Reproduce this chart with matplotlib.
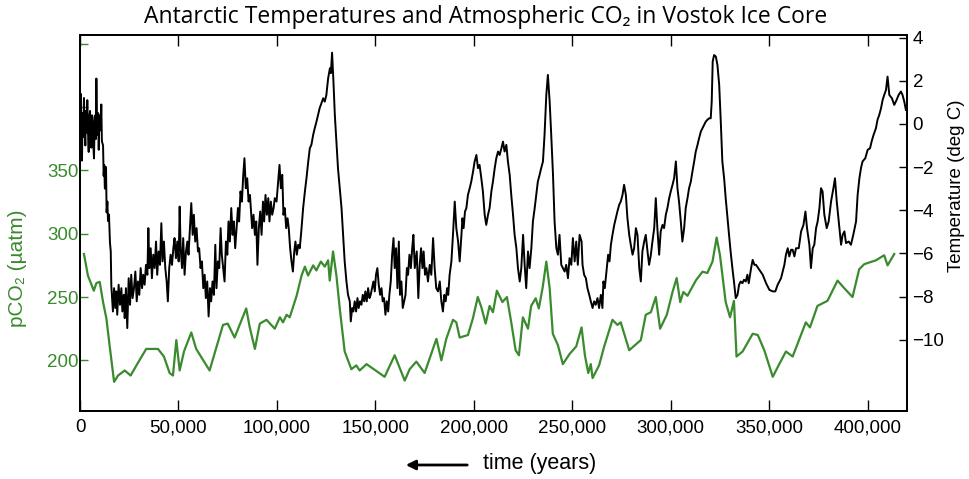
import numpy as np
import matplotlib
matplotlib.use('Agg')
import matplotlib.pyplot as plt
from matplotlib.ticker import FuncFormatter

# Vostok ice core (age in thousands of years)
co2_age = [2, 4, 7, 8.3, 10, 11.7, 13.4, 15, 17.3, 19.3, 22.7, 25.7, 29.4, 33.6, 39.6, 42.6,
           45.5, 47.2, 48.9, 50.6, 52.8, 56.5, 59, 65.8, 72.6, 75, 78.5, 84.4, 86.2, 88.8, 91.3,
           94.7, 98.9, 101.5, 103.1, 104.9, 106.5, 110, 112.5, 114.2, 115.8, 118.4, 120, 122.3,
           124.3, 126, 126.8, 128.5, 130.2, 131.9, 134.4, 137.8, 140.3, 142, 145.5, 154.7,
           159.8, 164.9, 167.4, 170.8, 175, 179.2, 181, 183.5, 186, 189.4, 191.1, 192.8, 197,
           199.5, 202, 203.8, 206, 208, 209.7, 211.7, 214.5, 216.8, 219, 221.2, 222.9, 224.9,
           227.5, 229.1, 231.4, 233, 235, 236.8, 238.5, 240.1, 242.7, 245.2, 248.6, 252, 254.7,
           256.4, 258.1, 259.4, 260.3, 263.6, 266.2, 270.4, 272.9, 274.6, 278.9, 284.8, 287.3,
           289.9, 292.4, 294.6, 298, 300.9, 303, 304.8, 306.4, 308.5, 312.7, 316.1, 318.6, 321.2,
           323.3, 325, 327.9, 330.1, 332.1, 333.4, 336.5, 341.6, 344.2, 347.5, 351.8, 355.1,
           358.5, 361.9, 368.6, 370.7, 374.5, 379.6, 384.7, 388.1, 392.3, 395.7, 398.3, 404.2,
           408.4, 410.1, 413.5]
co2_ppm = [284, 267, 255, 261, 262, 246, 233, 212, 183, 188, 192, 188, 198, 209, 209, 203,
           190, 188, 216, 192, 207, 222, 209, 192, 228, 229, 218, 241, 226, 209, 229,
           232, 225, 234, 230, 236, 234, 251, 267, 274, 267, 275, 271, 278,
           274, 279, 263, 286, 267, 241, 207, 193, 196, 192, 197, 187,
           204, 184, 193, 199, 190, 209, 217, 200, 217, 232, 230, 218, 220,
           233, 250, 242, 229, 243, 238, 255, 246, 250, 230, 208, 204, 234,
           225, 243, 249, 241, 258, 278, 257, 221, 212, 197, 205, 211, 226,
           204, 190, 197, 186, 196, 211, 232, 228, 230, 208, 216, 236,
           238, 250, 225, 236, 254, 265, 246, 254, 251, 263, 270, 269, 278,
           297, 283, 246, 234, 247, 203, 207, 221, 220, 208, 187, 197,
           207, 203, 230, 226, 243, 247, 263, 257, 250, 272, 276, 279,
           283, 275, 284]

temp_age = [0.0, 0.3, 0.6, 1.0, 1.3, 1.6, 2.0, 2.3, 2.7, 3.0, 3.3, 3.7, 4.0, 4.4, 4.7, 5.1,
            5.4, 5.75, 6.1, 6.4, 6.7, 7.1, 7.4, 7.8, 8.1, 8.3, 8.6, 8.8, 9.2, 9.5, 9.8, 10.1,
            10.5, 10.8, 11.1, 11.7, 12.0, 12.3, 12.6, 13.0, 13.2, 13.5, 13.9, 14.2, 14.7, 15.2,
            15.6, 15.9, 16.7, 17.3, 17.9, 18.4, 18.9, 19.6, 20.3, 21.0, 21.5, 22.2, 22.7, 23.3,
            24.0, 24.7, 25.4, 26.0, 26.7, 27.4, 28.1, 28.8, 29.4, 30.1, 30.8, 31.5, 32.1, 32.8,
            33.5, 34.2, 34.7, 35.2, 35.9, 36.5, 37.2, 37.9, 38.6, 39.2, 39.9, 40.6, 41.3, 41.9,
            42.6, 43.3, 44.0, 44.6, 45.3, 46.0, 46.7, 47.4, 48.0, 48.7, 49.4, 50.1, 50.6, 51.1,
            51.8, 52.4, 53.1, 53.8, 54.5, 55.1, 55.8, 56.5, 57.2, 57.8, 58.5, 59.2, 59.9, 60.5,
            61.2, 61.9, 62.6, 63.3, 63.9, 64.6, 65.3, 66.0, 66.6, 67.3, 68.0, 68.7, 69.3, 70.0,
            70.7, 71.4, 72.0, 72.7, 73.4, 74.1, 74.8, 75.4, 76.1, 76.8, 77.5, 78.1, 78.8, 79.5,
            80.2, 80.8, 81.5, 82.2, 82.9, 83.5, 84.2, 84.9, 85.6, 86.3, 87.4, 88.1, 88.8, 89.5,
            90.1, 90.8, 91.5, 92.2, 92.9, 93.5, 94.2, 94.9, 95.6, 96.2, 96.9, 97.6, 98.3, 98.9,
            99.8, 100.6, 101.3, 102.0, 102.7, 103.3, 104.0, 104.7, 105.4, 106.0, 106.7, 107.4,
            108.1, 108.8, 109.4, 110.1, 110.8, 111.6, 112.5, 113.3, 114.2, 115.0, 115.9, 116.7,
            117.5, 118.4, 119.2, 120.1, 120.9, 121.7, 122.6, 123.5, 124.3, 125.1, 126.0, 126.9,
            127.4, 128.0, 128.7, 129.4, 130.2, 131.0, 131.9, 132.8, 133.6, 134.4, 135.3, 136.1,
            137.0, 137.5, 138.2, 138.8, 139.5, 140.2, 140.9, 141.5, 142.2, 142.9, 143.6, 144.3,
            144.9, 145.6, 146.3, 147.0, 147.6, 148.3, 149.0, 149.7, 150.3, 151.0, 151.7, 152.4,
            153.1, 153.7, 154.4, 155.1, 155.8, 156.5, 157.1, 157.8, 158.5, 159.2, 159.8, 160.5,
            161.2, 161.9, 162.5, 163.2, 163.9, 164.6, 165.3, 166.0, 166.6, 167.3, 168.0, 168.7,
            169.3, 170.0, 171.0, 171.8, 172.5, 173.2, 173.9, 174.5, 175.2, 175.9, 176.7, 177.6,
            178.4, 179.3, 180.1, 180.9, 181.8, 182.7, 183.5, 184.3, 185.0, 185.7, 186.4, 187.0,
            187.7, 188.6, 189.4, 190.3, 191.1, 192.0, 192.8, 193.7, 194.2, 194.8, 195.5, 196.2,
            197.0, 197.9, 198.7, 199.6, 200.4, 201.3, 202.1, 202.9, 203.8, 204.6, 205.5, 206.3,
            207.2, 208.0, 208.9, 209.7, 210.6, 211.4, 212.3, 213.1, 214.0, 214.8, 215.6, 216.5,
            217.3, 218.2, 219.0, 219.9, 220.7, 221.6, 222.4, 223.3, 224.1, 225.0, 225.8, 226.6,
            227.5, 228.3, 229.2, 230.0, 230.9, 231.7, 232.5, 233.4, 234.2, 235.1, 235.9, 236.8,
            237.6, 238.5, 239.3, 240.2, 241.0, 241.9, 242.7, 243.5, 244.4, 245.2, 246.1, 246.9,
            247.8, 248.6, 249.5, 250.3, 251.2, 252.0, 252.8, 253.7, 254.7, 255.2, 256.0, 256.9,
            257.7, 258.6, 259.4, 260.3, 261.1, 261.9, 262.8, 263.6, 264.5, 265.3, 265.8, 266.5,
            267.5, 268.2, 268.9, 269.6, 270.4, 271.3, 272.1, 272.9, 273.8, 274.6, 275.5, 276.3,
            277.2, 278.0, 278.9, 279.7, 280.6, 281.4, 282.3, 283.1, 284.0, 284.8, 285.6, 286.5,
            287.3, 288.2, 289.0, 289.9, 290.7, 291.6, 292.4, 293.2, 294.1, 294.9, 295.8, 296.6,
            297.5, 298.3, 299.2, 300.0, 300.9, 301.7, 302.6, 303.4, 304.2, 305.1, 305.9, 306.8,
            307.6, 308.5, 309.3, 310.2, 311.0, 311.9, 312.7, 313.6, 314.4, 315.3, 316.1, 316.9,
            317.8, 318.6, 319.5, 320.3, 320.8, 321.3, 322.0, 322.9, 323.7, 324.6, 325.4, 326.2,
            327.1, 327.9, 328.8, 329.6, 330.4, 331.3, 332.1, 333.0, 333.9, 334.7, 335.5, 336.4,
            337.2, 338.1, 338.9, 339.6, 340.8, 341.6, 342.5, 343.3, 345.0, 346.7, 348.4, 350.1,
            351.8, 353.1, 354.3, 356.0, 357.7, 358.5, 359.4, 360.2, 361.1, 361.9, 362.8, 363.6,
            365.0, 366.2, 367.4, 368.4, 369.2, 370.4, 371.2, 372.1, 372.9, 373.8, 374.6, 375.5,
            376.3, 377.1, 378.0, 379.2, 380.2, 381.4, 382.6, 383.4, 384.3, 385.3, 386.5, 387.3,
            388.2, 389.0, 390.4, 391.5, 392.7, 394.1, 394.9, 395.8, 396.6, 397.4, 398.8, 400.0,
            401.2, 402.0, 403.0, 404.2, 405.0, 405.9, 406.8, 407.6, 408.4, 409.3, 410.1, 411.0,
            412.3, 413.5, 414.7, 415.7, 416.9, 417.7, 418.6, 419.4]
temp_c = [-1.0, 1.4, -0.3, -1.7, 0.5, -0.6, 1.2, 0.0, -1.0, 0.6, -0.4, 1.1, -0.2, -1.3, 0.3, 0.6,
          -0.8, -1.1, 0.4, 0.3, -0.9, -1.6, 0.1, 0.4, -0.7, 2.1, -0.2, -0.5, 0.5, -1.2, 0.2, 0.4,
          -0.3, 0.9, -0.8, -1.0, -2.4, -1.9, -3.0, -2.9, -2.0, -4.1, -3.6, -4.5, -4.2, -5.5,
          -5.9, -7.5, -8.69, -7.61, -8.53, -7.76, -8.84, -7.45, -8.38, -7.61, -8.69, -7.92, -9.0, -7.61,
          -9.46, -7.15, -8.38, -6.99, -8.07, -7.61, -6.84, -8.22, -7.3, -7.92, -6.68, -7.61, -6.99, -7.45,
          -6.53, -6.99, -4.83, -6.68, -5.76, -7.15, -6.06, -6.68, -5.45, -6.99, -5.91, -6.53, -4.6, -6.37,
          -5.45, -6.68, -7.3, -8.22, -6.68, -6.06, -6.53, -5.76, -5.29, -6.22, -5.45, -6.37, -3.83, -5.76,
          -6.68, -5.29, -6.99, -5.91, -5.45, -6.06, -4.83, -3.67, -5.14, -4.21, -5.45, -4.83, -5.91, -5.76,
          -6.68, -6.37, -7.61, -6.99, -8.07, -7.3, -8.92, -7.61, -8.22, -7.3, -7.92, -5.6, -7.61, -6.37,
          -6.68, -4.83, -6.06, -6.68, -7.3, -5.45, -6.06, -4.52, -5.45, -3.9, -5.14, -4.52, -5.76, -4.83,
          -3.9, -4.52, -3.13, -3.6, -2.36, -1.59, -2.98, -2.52, -3.6, -3.29, -4.83, -4.21, -5.14, -4.52,
          -6.53, -4.83, -4.06, -5.14, -3.6, -4.52, -3.29, -4.21, -3.44, -4.52, -3.6, -4.21, -3.9, -3.44,
          -3.6, -2.67, -1.9, -2.98, -2.36, -4.21, -3.9, -4.83, -4.37, -4.83, -5.76, -6.37,
          -6.84, -5.91, -5.45, -6.06, -5.6, -5.76, -4.83, -3.9, -3.13, -2.52, -1.74, -1.13,
          -0.97, -0.51, -0.2, 0.11, 0.42, 0.73, 0.96, 1.19, 1.03, 1.34, 2.11, 2.58,
          2.35, 3.3, 1.96, 0.42, -0.82, -2.05, -2.98, -3.9, -5.14, -6.37, -7.3, -7.92,
          -8.22, -9.15, -8.53, -8.69, -8.22, -8.69, -8.07, -8.53, -8.22, -8.38, -7.92, -8.22,
          -7.76, -8.22, -7.61, -8.07, -7.92, -7.61, -7.3, -7.76, -6.99, -6.68, -7.45, -7.92,
          -7.61, -8.22, -8.07, -8.84, -8.22, -8.69, -7.92, -7.3, -6.06, -5.29, -6.68, -5.76,
          -7.61, -5.45, -7.92, -7.3, -8.53, -8.22, -7.92, -6.68, -6.99, -6.06, -6.68, -5.76,
          -5.14, -6.68, -5.91, -8.07, -6.53, -5.76, -6.68, -5.91, -6.99, -6.68, -7.3, -6.53,
          -6.99, -5.29, -6.68, -7.61, -7.76, -7.3, -8.22, -8.69, -7.92, -8.22, -7.61, -7.92,
          -6.99, -6.37, -5.14, -3.6, -4.83, -5.45, -6.37, -5.14, -4.37, -4.83, -4.06, -3.9,
          -3.29, -2.98, -2.67, -2.21, -1.74, -1.44, -2.05, -1.9, -2.52, -3.13, -4.21, -4.68,
          -4.21, -3.9, -3.13, -2.67, -2.05, -1.59, -1.28, -1.44, -1.13, -0.82, -1.28, -0.97,
          -1.74, -2.36, -3.29, -4.21, -5.14, -5.76, -6.68, -7.3, -6.68, -5.14, -6.53, -7.61,
          -5.91, -6.68, -5.76, -4.52, -3.9, -3.29, -2.67, -2.36, -2.05, -1.74, -0.51, 1.34,
          2.27, 1.03, -0.51, -2.36, -4.52, -5.76, -6.06, -5.14, -6.53, -6.68, -6.84, -6.53,
          -7.15, -6.22, -6.53, -5.29, -6.37, -5.45, -6.53, -5.14, -5.45, -6.53, -6.99, -7.15,
          -7.61, -7.92, -8.22, -8.53, -8.22, -8.38, -8.07, -8.53, -7.92, -8.53, -7.3, -7.61,
          -6.68, -6.06, -6.37, -5.6, -5.14, -4.68, -4.37, -4.06, -3.75, -3.6, -3.29, -2.82,
          -3.29, -4.37, -5.14, -5.6, -6.06, -5.76, -4.83, -5.14, -6.68, -7.3, -5.91, -5.45,
          -5.14, -5.91, -6.53, -6.06, -5.45, -4.83, -3.44, -4.83, -6.06, -4.98, -4.68, -4.83,
          -4.21, -3.9, -3.44, -3.13, -2.82, -2.52, -1.74, -2.98, -3.6, -4.52, -5.45, -4.83,
          -3.9, -3.44, -2.98, -2.67, -2.21, -1.74, -1.28, -0.97, -0.66, -0.35, -0.2, -0.05,
          0.11, 0.19, 0.26, 0.26, 1.03, 2.89, 3.19, 3.12, 2.73, 1.81, 0.11, -1.74,
          -2.52, -3.44, -4.37, -5.14, -5.91, -6.68, -7.3, -8.07, -7.92, -7.45, -7.3, -7.38,
          -7.22, -7.3, -6.99, -7.38, -6.68, -6.3, -6.53, -6.53, -6.76, -6.99, -7.38, -7.69,
          -7.76, -7.76, -7.45, -7.15, -6.53, -6.06, -5.76, -6.14, -5.83, -5.83, -6.14, -5.76,
          -5.76, -4.98, -4.68, -4.06, -4.83, -5.6, -6.68, -5.76, -5.6, -4.83, -4.52, -3.9,
          -2.98, -3.13, -4.21, -4.83, -4.52, -3.6, -2.98, -2.52, -3.6, -4.52, -5.6, -5.14,
          -4.98, -5.52, -5.45, -5.6, -5.14, -4.52, -3.29, -2.52, -2.05, -1.74, -1.59, -1.2,
          -1.13, -0.82, -0.51, -0.2, 0.19, 0.42, 0.73, 1.11, 1.34, 1.57, 2.19, 1.34,
          1.19, 0.88, 1.11, 1.34, 1.5, 1.34, 1.03, 0.65]

xtick_vals = [0, 50000, 100000, 150000, 200000, 250000, 300000, 350000, 400000]
co2_ticks = [200, 250, 300, 350, 400, 450]
co2_tick_labels = ['200', '250', '300', '350', '', '']
temp_ticks = [-10, -8, -6, -4, -2, 0, 2, 4]

green = '#3a8a2e'

plt.rcParams['font.family'] = ['Liberation Sans', 'DejaVu Sans']

fig = plt.figure(figsize=(9.7, 4.79), dpi=100)
ax = fig.add_axes([0.0825, 0.142, 0.8526, 0.785])
ax2 = ax.twinx()

ax.plot(np.array(co2_age) * 1000, co2_ppm, color=green, lw=1.6)
ax2.plot(np.array(temp_age) * 1000, temp_c, color='black', lw=1.4)

ax.set_xlim(0, 420000)
ax.set_ylim(160, 457)
ax2.set_ylim(-13.3, 4.12)

ax.set_xticks(xtick_vals)
ax.xaxis.set_major_formatter(FuncFormatter(lambda v, p: f'{int(v):,}'))
ax.tick_params(axis='x', direction='in', top=True, length=8, width=1, pad=6,
               labelsize=13.5)

ax.set_yticks(co2_ticks)
ax.set_yticklabels(co2_tick_labels)
ax.tick_params(axis='y', direction='in', length=6, width=1, pad=1, colors=green,
               labelsize=13.5)

ax2.set_yticks(temp_ticks)
ax2.tick_params(axis='y', direction='in', length=6, width=1, pad=4, labelsize=13.5)

for s in ax.spines.values():
    s.set_linewidth(1.3)
for s in ax2.spines.values():
    s.set_linewidth(1.3)

ax.set_ylabel('pCO\u2082 (\u00b5atm)', color=green, fontsize=15)
ax.yaxis.set_label_coords(-0.064, 0.38)
ax2.set_ylabel('Temperature (deg C)', fontsize=13.5)
ax2.yaxis.set_label_coords(1.049, 0.6)

fig.text(0.501, 0.965, 'Antarctic Temperatures and Atmospheric CO\u2082 in Vostok Ice Core',
         ha='center', va='center', fontsize=16.5, family=['Open Sans', 'DejaVu Sans'])

# arrow pointing back in time, then the axis label
fig.add_artist(matplotlib.patches.FancyArrowPatch(
    (470 / 970, 1 - 465 / 479), (403 / 970, 1 - 465 / 479),
    transform=fig.transFigure, arrowstyle='-|>', mutation_scale=14, lw=2, color='black'))
fig.text(483 / 970, 1 - 464 / 479, 'time (years)', ha='left', va='center', fontsize=15.5)

fig.savefig('out.png', dpi=100)
